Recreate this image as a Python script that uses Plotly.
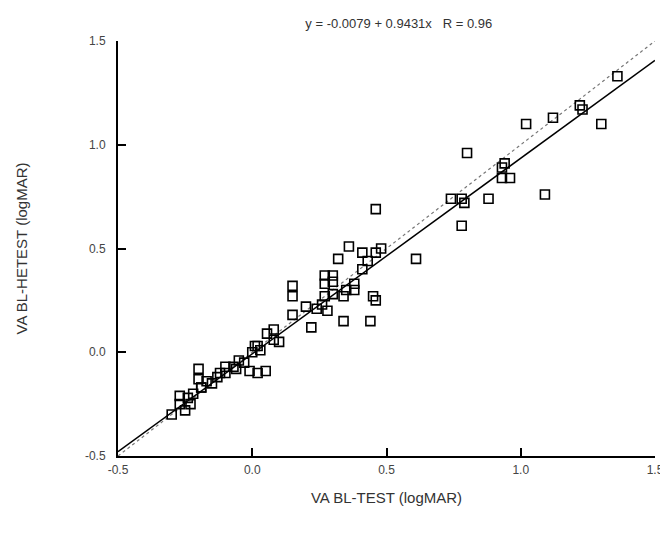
import plotly.graph_objects as go

# Data (logMAR)
bl_test = [1.36, 1.22, 1.23, 1.12, 1.02, 1.30, 0.80, 0.94, 0.93, 0.96, 0.93, 1.09,
           0.74, 0.78, 0.79, 0.88, 0.78, 0.61, 0.46, 0.36, 0.41, 0.46, 0.48, 0.43,
           0.32, 0.27, 0.30, 0.27, 0.30, 0.41, 0.38, 0.38, 0.34, 0.45, 0.46, 0.15,
           0.15, 0.27, 0.26, 0.28, 0.34, 0.44, 0.22, 0.15, 0.08, 0.055, 0.08, 0.01,
           0.03, -0.05, -0.07, -0.01, 0.02, 0.05, -0.20, -0.20, -0.10, -0.13, -0.15,
           -0.19, -0.27, -0.24, -0.27, -0.23, -0.30, -0.19, -0.10, 0.00, -0.03, 0.02,
           -0.12, -0.17, -0.22, -0.25, 0.20, 0.24, 0.30, 0.35, -0.06, 0.10]
bl_hetest = [1.33, 1.19, 1.17, 1.13, 1.10, 1.10, 0.96, 0.91, 0.89, 0.84, 0.84, 0.76,
             0.74, 0.74, 0.72, 0.74, 0.61, 0.45, 0.69, 0.51, 0.48, 0.48, 0.50, 0.44,
             0.45, 0.37, 0.37, 0.33, 0.34, 0.40, 0.33, 0.30, 0.27, 0.27, 0.25, 0.32,
             0.27, 0.27, 0.23, 0.20, 0.15, 0.15, 0.12, 0.18, 0.11, 0.09, 0.06, 0.03,
             0.01, -0.04, -0.07, -0.09, -0.10, -0.09, -0.08, -0.13, -0.07, -0.12, -0.15,
             -0.17, -0.21, -0.22, -0.25, -0.25, -0.30, -0.17, -0.10, 0.00, -0.05, 0.03,
             -0.10, -0.14, -0.20, -0.28, 0.22, 0.21, 0.28, 0.30, -0.08, 0.05]

intercept = -0.0079
slope = 0.9431
line_x = [-0.5, 1.5]
fit_y = [intercept + slope * v for v in line_x]

fig = go.Figure()
fig.add_trace(go.Scatter(x=line_x, y=line_x, mode="lines",
                         line=dict(color="#777777", width=1.2, dash="dot"),
                         showlegend=False, hoverinfo="skip"))
fig.add_trace(go.Scatter(x=line_x, y=fit_y, mode="lines",
                         line=dict(color="black", width=1.5),
                         showlegend=False, hoverinfo="skip"))
fig.add_trace(go.Scatter(x=bl_test, y=bl_hetest, mode="markers",
                         marker=dict(symbol="square-open", size=9,
                                     color="black", line=dict(width=1.6)),
                         showlegend=False))

axis_common = dict(range=[-0.5, 1.5], tickvals=[-0.5, 0.0, 0.5, 1.0, 1.5],
                   ticktext=["-0.5", "0.0", "0.5", "1.0", "1.5"],
                   showgrid=False, zeroline=False, showline=True,
                   linecolor="black", linewidth=2, ticks="inside",
                   ticklen=8, tickwidth=2, tickcolor="black",
                   tickfont=dict(family="Liberation Sans, Arial", size=12, color="#444444"))

fig.update_layout(
    width=668, height=535,
    margin=dict(l=108, r=13, t=33, b=87),
    paper_bgcolor="white", plot_bgcolor="white",
    title=dict(text="y = -0.0079 + 0.9431x   R = 0.96", x=0.585, xanchor="center",
               y=0.972, yanchor="middle",
               font=dict(family="Liberation Sans, Arial", size=13, color="#333333")),
    xaxis=dict(axis_common, ticklabelstandoff=2,
               title=dict(text="VA BL-TEST (logMAR)", standoff=16,
               font=dict(family="Liberation Sans, Arial", size=15, color="#333333"))),
    yaxis=dict(axis_common, ticklabelstandoff=8,
               title=dict(text="VA BL-HETEST (logMAR)", standoff=54,
               font=dict(family="Liberation Sans, Arial", size=15, color="#333333"))),
)

fig.write_html("out.html")
